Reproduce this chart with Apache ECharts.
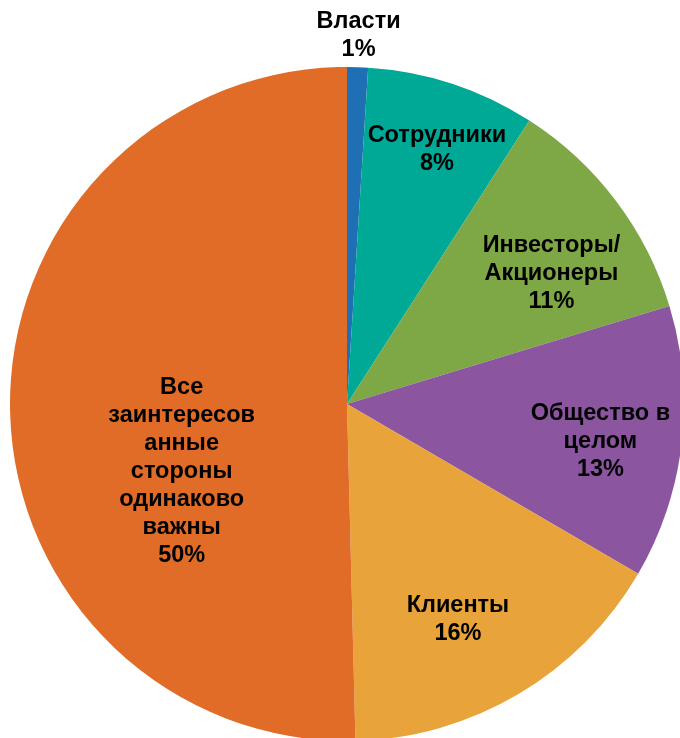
<!DOCTYPE html>
<html>
<head>
<meta charset="utf-8">
<script src="https://cdn.jsdelivr.net/npm/echarts@6/dist/echarts.min.js"></script>
<style>
  html, body { margin: 0; padding: 0; background: #fff; }
  #chart { width: 680px; height: 738px; }
</style>
</head>
<body>
<div id="chart"></div>
<script>
// данные (по часовой стрелке от 12 часов)
const names = [
  'Власти',
  'Сотрудники',
  'Инвесторы/\nАкционеры',
  'Общество в\nцелом',
  'Клиенты',
  'Все\nзаинтересов\nанные\nстороны\nодинаково\nважны'
];
const values = [1.0, 8.1, 11.2, 13.1, 16.2, 50.4];
const colors = ['#1F6FB4', '#00A896', '#7EA846', '#8B55A0', '#E8A33A', '#E06C28'];

// раскладка подписей: доля радиуса и сдвиг угла (градусы)
const labelRadius = [1.095, 0.80, 0.72, 0.76, 0.72, 0.53];
const labelAngleShift = [0, 1.3, 4.5, 1.7, 3.4, -21.5];

const cx = 347, cy = 404, R = 337;

const total = values.reduce((a, b) => a + b, 0);
const midAngles = [];
let acc = 0;
values.forEach(v => {
  midAngles.push((acc + v / 2) / total * 360);
  acc += v;
});

const chart = echarts.init(document.getElementById('chart'));

const option = {
  animation: false,
  backgroundColor: '#fff',
  series: [{
    type: 'pie',
    center: [cx, cy],
    radius: R,
    startAngle: 90,
    clockwise: true,
    avoidLabelOverlap: false,
    itemStyle: { borderWidth: 0 },
    labelLine: { show: false },
    label: {
      show: true,
      position: 'inside',
      color: '#000',
      fontFamily: 'Liberation Sans, Arial, sans-serif',
      fontWeight: 'bold',
      fontSize: 23.5,
      lineHeight: 28,
      align: 'center',
      formatter: p => p.name + '\n' + Math.round(p.percent) + '%'
    },
    labelLayout: params => {
      const i = params.dataIndex;
      const a = (midAngles[i] + labelAngleShift[i]) * Math.PI / 180;
      const r = R * labelRadius[i];
      return {
        x: cx + r * Math.sin(a),
        y: cy - r * Math.cos(a),
        align: 'center',
        verticalAlign: 'middle'
      };
    },
    data: names.map((n, i) => ({
      name: n,
      value: values[i],
      itemStyle: { color: colors[i] }
    }))
  }]
};

chart.setOption(option);
</script>
</body>
</html>
